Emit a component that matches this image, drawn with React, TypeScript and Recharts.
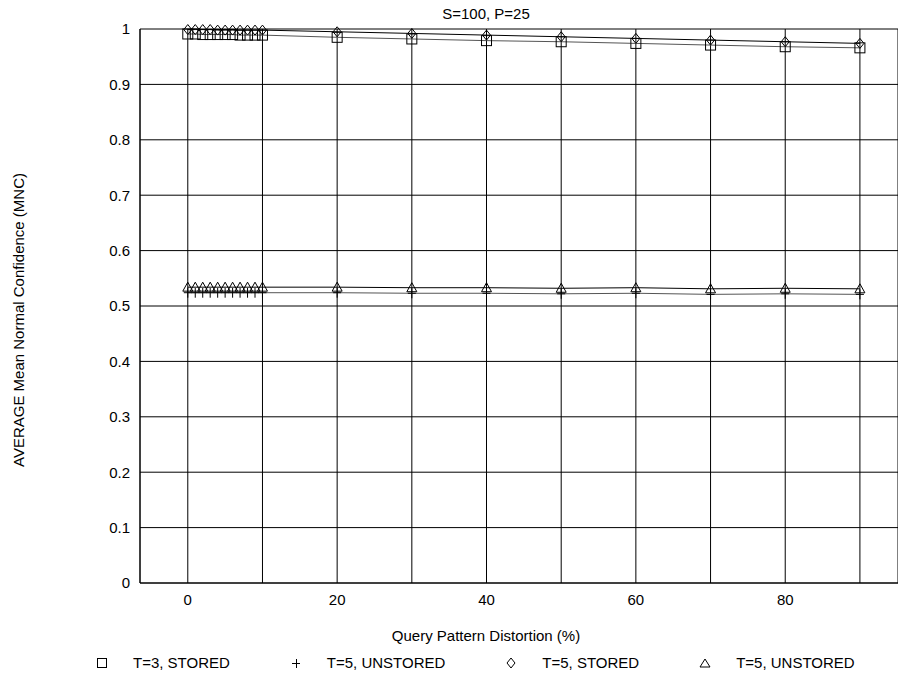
import { LineChart, Line, XAxis, YAxis, CartesianGrid, Label } from 'recharts'

const distortion = [0, 1, 2, 3, 4, 5, 6, 7, 8, 9, 10, 20, 30, 40, 50, 60, 70, 80, 90]
const t3Stored = [0.991, 0.991, 0.99, 0.99, 0.99, 0.99, 0.99, 0.989, 0.989, 0.989, 0.989, 0.985, 0.982, 0.979, 0.977, 0.974, 0.971, 0.968, 0.966]
const t5Unstored = [0.524, 0.524, 0.524, 0.524, 0.524, 0.524, 0.524, 0.524, 0.524, 0.524, 0.524, 0.524, 0.523, 0.523, 0.522, 0.523, 0.521, 0.522, 0.521]
const t5Stored = [0.999, 0.999, 0.999, 0.999, 0.998, 0.998, 0.998, 0.998, 0.998, 0.998, 0.998, 0.995, 0.992, 0.989, 0.986, 0.983, 0.98, 0.977, 0.974]
const t5UnstoredB = [0.534, 0.534, 0.534, 0.534, 0.534, 0.534, 0.534, 0.534, 0.534, 0.534, 0.534, 0.534, 0.533, 0.533, 0.532, 0.533, 0.531, 0.532, 0.531]

const xTicks = [0, 20, 40, 60, 80]
const xGridTicks = [0, 10, 20, 30, 40, 50, 60, 70, 80, 90]
const yTicks = [0, 0.1, 0.2, 0.3, 0.4, 0.5, 0.6, 0.7, 0.8, 0.9, 1]
const xDomain = [-6.4, 95.1]

const data = distortion.map((x, i) => ({
  x,
  t3s: t3Stored[i],
  t5u: t5Unstored[i],
  t5s: t5Stored[i],
  t5u2: t5UnstoredB[i],
}))

const FONT = '"Liberation Sans", Arial, sans-serif'

type DotProps = { cx?: number; cy?: number; index?: number }

const squareDot = ({ cx, cy, index }: DotProps) =>
  cx == null || cy == null ? <g key={index} /> : (
    <rect key={index} x={cx - 5} y={cy - 5} width={10} height={10} fill="none" stroke="#000" strokeWidth={1} />
  )

const plusDot = ({ cx, cy, index }: DotProps) =>
  cx == null || cy == null ? <g key={index} /> : (
    <path key={index} d={`M${cx - 4},${cy}H${cx + 4}M${cx},${cy - 5}V${cy + 5}`} fill="none" stroke="#000" strokeWidth={1} />
  )

const diamondDot = ({ cx, cy, index }: DotProps) =>
  cx == null || cy == null ? <g key={index} /> : (
    <polygon key={index} points={`${cx},${cy - 5} ${cx + 4},${cy} ${cx},${cy + 5} ${cx - 4},${cy}`} fill="none" stroke="#000" strokeWidth={1} />
  )

const triangleDot = ({ cx, cy, index }: DotProps) =>
  cx == null || cy == null ? <g key={index} /> : (
    <polygon key={index} points={`${cx},${cy - 5} ${cx + 5},${cy + 4} ${cx - 5},${cy + 4}`} fill="none" stroke="#000" strokeWidth={1} />
  )

const legendItems = [
  { label: 'T=3, STORED', shape: 'square' },
  { label: 'T=5, UNSTORED', shape: 'plus' },
  { label: 'T=5, STORED', shape: 'diamond' },
  { label: 'T=5, UNSTORED', shape: 'triangle' },
]

function LegendMark({ shape }: { shape: string }) {
  return (
    <svg width={12} height={12} style={{ display: 'block' }}>
      {shape === 'square' && <rect x={1.5} y={1.5} width={9} height={9} fill="none" stroke="#000" />}
      {shape === 'plus' && <path d="M2,6.5H10M6.5,2V11" fill="none" stroke="#000" />}
      {shape === 'diamond' && <polygon points="6,1 10,6 6,11 2,6" fill="none" stroke="#000" />}
      {shape === 'triangle' && <polygon points="6,2 11,10 1,10" fill="none" stroke="#000" />}
    </svg>
  )
}

export default function App() {
  return (
    <div style={{ position: 'absolute', left: 0, top: 0, width: 898, height: 677, background: '#fff', fontFamily: FONT }}>
      <div style={{ position: 'absolute', left: 0, width: 972, top: 5, textAlign: 'center', fontSize: 15, color: '#000' }}>
        S=100, P=25
      </div>
      <LineChart width={898} height={677} data={data} margin={{ top: 29, right: 0, bottom: 64, left: 0 }}>
        <CartesianGrid xAxisId="grid" stroke="#000" strokeWidth={1} horizontal vertical />
        <XAxis xAxisId="grid" type="number" dataKey="x" domain={xDomain} ticks={xGridTicks} hide />
        <XAxis
          type="number"
          dataKey="x"
          domain={xDomain}
          ticks={xTicks}
          tickLine={false}
          tickSize={0}
          tickMargin={11}
          axisLine={{ stroke: '#000' }}
          tick={{ fill: '#000', fontSize: 15, fontFamily: FONT }}
          height={30}
        >
          <Label
            content={() => (
              <text x={486} y={641} textAnchor="middle" fontSize={15} fontFamily={FONT} fill="#000">
                Query Pattern Distortion (%)
              </text>
            )}
          />
        </XAxis>
        <YAxis
          type="number"
          domain={[0, 1]}
          ticks={yTicks}
          width={140}
          tickLine={false}
          tickSize={0}
          tickMargin={10}
          axisLine={{ stroke: '#000' }}
          tick={{ fill: '#000', fontSize: 15, fontFamily: FONT }}
          tickFormatter={(v: number) => String(+v.toFixed(1))}
        >
          <Label
            content={() => (
              <text x={24} y={320} transform="rotate(-90 24 320)" textAnchor="middle" fontSize={15} fontFamily={FONT} fill="#000">
                AVERAGE Mean Normal Confidence (MNC)
              </text>
            )}
          />
        </YAxis>
        <Line dataKey="t3s" stroke="#555" strokeWidth={1} dot={squareDot} isAnimationActive={false} />
        <Line dataKey="t5u" stroke="#555" strokeWidth={1} dot={plusDot} isAnimationActive={false} />
        <Line dataKey="t5s" stroke="#000" strokeWidth={1} dot={diamondDot} isAnimationActive={false} />
        <Line dataKey="t5u2" stroke="#000" strokeWidth={1} dot={triangleDot} isAnimationActive={false} />
      </LineChart>
      <div style={{ position: 'absolute', left: 96, top: 654, display: 'flex', alignItems: 'center', fontSize: 15, color: '#000' }}>
        {legendItems.map((it, i) => (
          <div key={i} style={{ display: 'flex', alignItems: 'center', marginRight: i < legendItems.length - 1 ? 60 : 0 }}>
            <LegendMark shape={it.shape} />
            <span style={{ marginLeft: 25, whiteSpace: 'nowrap' }}>{it.label}</span>
          </div>
        ))}
      </div>
    </div>
  )
}
